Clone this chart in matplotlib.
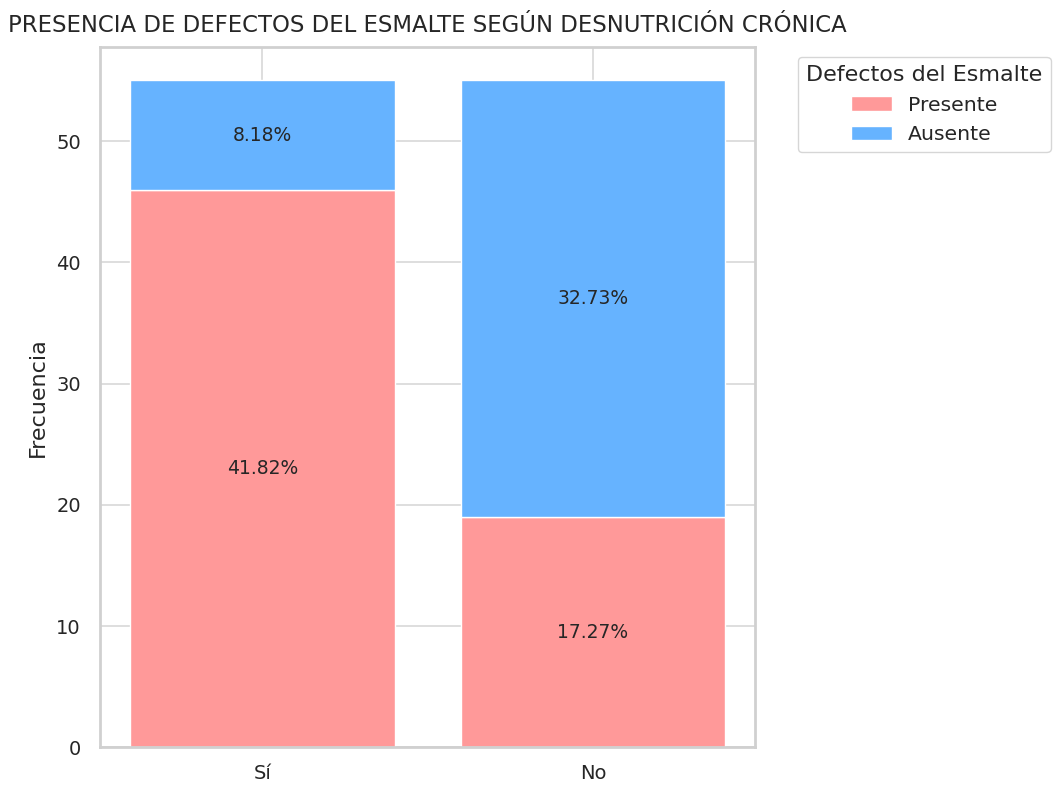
import matplotlib
matplotlib.use("Agg")
import matplotlib.pyplot as plt
import seaborn as sns
import numpy as np

sns.set_theme(style="whitegrid")

# datos
categorias = ["Sí", "No"]
presente = [46, 19]
ausente = [9, 36]
total = sum(presente) + sum(ausente)

colores = ["#ff9999", "#66b3ff"]

fig, ax = plt.subplots(figsize=(10.56, 7.85), dpi=100)
x = np.arange(len(categorias))

b1 = ax.bar(x, presente, color=colores[0], label="Presente")
b2 = ax.bar(x, ausente, bottom=presente, color=colores[1], label="Ausente")

for bars, vals, base in [(b1, presente, [0, 0]), (b2, ausente, presente)]:
    for rect, v, b in zip(bars, vals, base):
        ax.text(rect.get_x() + rect.get_width() / 2, b + v / 2,
                f"{v / total * 100:.2f}%", ha="center", va="center",
                fontsize=13.5, color="#262626")

ax.set_xticks(x)
ax.set_xticklabels(categorias)
ax.tick_params(axis="y", labelsize=14, pad=8)
ax.tick_params(axis="x", labelsize=14, pad=6)
ax.grid(color="#dedede", linewidth=1.4)
ax.set_ylabel("Frecuencia", fontsize=16, labelpad=6)
ax.set_title("PRESENCIA DE DEFECTOS DEL ESMALTE SEGÚN DESNUTRICIÓN CRÓNICA",
             fontsize=16.4, pad=11)
for s in ax.spines.values():
    s.set_linewidth(2)
    s.set_color("#d0d0d0")
ax.legend(title="Defectos del Esmalte", bbox_to_anchor=(1.05, 1), loc="upper left",
          fontsize=14.7, title_fontsize=16)

fig.subplots_adjust(left=0.095, right=0.715, top=0.94, bottom=0.048)
fig.savefig("out.png", dpi=100)
